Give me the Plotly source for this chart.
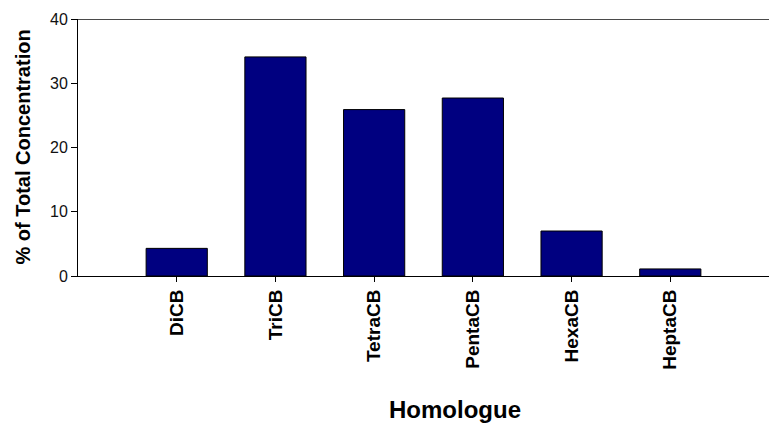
import plotly.graph_objects as go

categories = ["DiCB", "TriCB", "TetraCB", "PentaCB", "HexaCB", "HeptaCB"]
values = [4.3, 34.1, 25.9, 27.7, 7.0, 1.1]
y_ticks = [0, 10, 20, 30, 40]

fig = go.Figure()
fig.add_trace(go.Bar(
    x=categories, y=values,
    width=0.62,
    marker=dict(color="#000080", line=dict(color="#000000", width=1)),
))

fig.update_layout(
    width=769, height=423,
    margin=dict(l=78, r=0, t=19, b=147, autoexpand=False),
    paper_bgcolor="white", plot_bgcolor="white",
    showlegend=False,
    font=dict(family="Liberation Sans, Arial, sans-serif", color="#000000"),
    xaxis=dict(
        type="category",
        range=[-1, 6],
        showline=True, linecolor="#000000", linewidth=1,
        ticks="outside", ticklen=5, tickcolor="#000000",
        tickangle=-90,
        tickfont=dict(size=19, family="Liberation Sans, Arial, sans-serif", color="#000000", weight="bold"),
        showgrid=False, zeroline=False,
    ),
    yaxis=dict(
        range=[0, 40],
        tickvals=y_ticks,
        showline=True, linecolor="#000000", linewidth=1,
        ticks="outside", ticklen=6, tickcolor="#000000",
        tickfont=dict(size=16, family="Liberation Sans, Arial, sans-serif", color="#111111"),
        showgrid=False, zeroline=False,
    ),
    shapes=[dict(type="line", xref="paper", yref="y", x0=0, x1=1, y0=40, y1=40,
                 layer="above", line=dict(color="#4a4a4a", width=2))],
    annotations=[
        dict(text="<b>% of Total Concentration</b>", xref="paper", yref="paper",
             x=-0.081, y=0.5, xanchor="center", yanchor="middle", textangle=-90,
             showarrow=False, font=dict(size=20, color="#000000")),
        dict(text="<b>Homologue</b>", xref="paper", yref="paper",
             x=0.5456, y=-0.521, xanchor="center", yanchor="middle",
             showarrow=False, font=dict(size=24, color="#000000")),
    ],
)

fig.write_html("out.html", config={"displayModeBar": False},
               post_script="document.body.style.margin='0px';document.body.style.padding='0px';")
